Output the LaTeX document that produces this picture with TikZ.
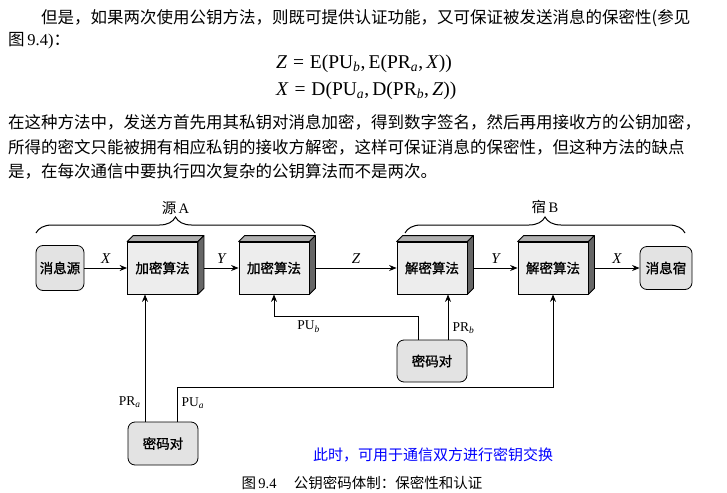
\documentclass[tikz,border=0pt]{standalone}
\usepackage{fontspec}
\setmainfont{Liberation Serif}
\newfontfamily\cjk{Noto Sans CJK SC}
\newfontfamily\cjkheavy{Noto Sans CJK SC}[FakeBold=1.2]
\usetikzlibrary{arrows.meta,decorations.pathreplacing}
\XeTeXlinebreaklocale "zh"
\XeTeXlinebreakskip=0pt plus 1fil
% key names with an italic subscript
\newcommand\keyname[2]{#1\textsubscript{\itshape #2}}
% top and right faces of a block drawn as a box
\newcommand\cubefaces[1]{%
  \filldraw[topface] (#1.north west) -- ([shift={(6,-6)}]#1.north west)
    -- ([shift={(6,-6)}]#1.north east) -- (#1.north east) -- cycle;
  \filldraw[sideface] (#1.north east) -- ([shift={(6,-6)}]#1.north east)
    -- ([shift={(6,-6)}]#1.south east) -- (#1.south east) -- cycle;}
\begin{document}
\begin{tikzpicture}[x=1pt,y=-1pt,
  bodytext/.style={anchor=west,inner sep=0pt,font=\cjk\fontsize{16.5}{18}\selectfont},
  eqtext/.style={anchor=west,inner sep=0pt,font=\fontsize{19.5}{21}\selectfont},
  cube/.style={draw,fill=gray!14,line width=0.8pt,minimum width=70pt,minimum height=52pt,
    inner sep=0pt,font=\cjkheavy\fontsize{13.5}{15}\selectfont},
  topface/.style={fill=gray!62,draw=black,line width=0.8pt,line join=round},
  sideface/.style={fill=gray!80!black,draw=black,line width=0.8pt,line join=round},
  term/.style={draw,fill=gray!22,line width=0.8pt,rounded corners=7pt,inner sep=0pt,
    font=\cjkheavy\fontsize{13.5}{15}\selectfont},
  arr/.style={-{Stealth[length=7.5pt,width=6pt]},line width=1pt},
  flow/.style={font=\itshape\fontsize{15}{16}\selectfont},
  keylab/.style={font=\fontsize{13.5}{15}\selectfont,inner sep=1pt},
  bracelab/.style={font=\fontsize{14.5}{16}\selectfont},
  brace/.style={decorate,decoration={brace,amplitude=16pt},line width=1pt}]
\useasboundingbox[fill=white] (0,0) rectangle (727,492);

% paragraph above the figure
\node[bodytext] (l1) at (41,18) {\hbox to 676pt{但是，如果两次使用公钥方法，则既可提供认证功能，又可保证被发送消息的保密性(参见}};
\node[bodytext] (l2) at (8,41) {图\,{\fontspec{Liberation Serif}9.4)}：};
\node[eqtext] (e1) at (276,64) {\textit{Z}\hspace{0.3em}=\hspace{0.3em}E(\keyname{PU}{b},\,E(\keyname{PR}{a},\,\textit{X}))};
\node[eqtext] (e2) at (276,91) {\textit{X}\hspace{0.3em}=\hspace{0.3em}D(\keyname{PU}{a},\,D(\keyname{PR}{b},\,\textit{Z}))};
\node[bodytext] (l3) at (8,122) {\hbox to 710pt{在这种方法中，发送方首先用其私钥对消息加密，得到数字签名，然后再用接收方的公钥加密，}};
\node[bodytext] (l4) at (8,147) {\hbox to 705pt{所得的密文只能被拥有相应私钥的接收方解密，这样可保证消息的保密性，但这种方法的缺点}};
\node[bodytext] (l5) at (8,171) {是，在每次通信中要执行四次复杂的公钥算法而不是两次。};

% braces over sender and receiver
\draw[brace] (36,233) -- node[bracelab,above=15pt] {{\cjk 源}\,A} (315,233);
\draw[brace] (405,233) -- node[bracelab,above=15pt] {{\cjk 宿}\,B} (685,233);

% main chain
\node[term,minimum width=48pt,minimum height=45pt] (src) at (60,268) {消息源};
\node[cube] (enc1) at (162.5,268) {加密算法};
\node[cube] (enc2) at (274,268) {加密算法};
\node[cube] (dec1) at (432,268) {解密算法};
\node[cube] (dec2) at (553,268) {解密算法};
\node[term,minimum width=52pt,minimum height=43pt] (dst) at (666,268) {消息宿};
\cubefaces{enc1}\cubefaces{enc2}\cubefaces{dec1}\cubefaces{dec2}

\draw[arr] (src.east) -- node[flow,above=1pt] {X} (enc1.west);
\draw[arr] ([xshift=6pt]enc1.east) -- node[flow,above=1pt] {Y} (enc2.west);
\draw[arr] ([xshift=6pt]enc2.east) -- node[flow,above=1pt] {Z} (dec1.west);
\draw[arr] ([xshift=6pt]dec1.east) -- node[flow,above=1pt] {Y} (dec2.west);
\draw[arr] ([xshift=6pt]dec2.east) -- node[flow,above=1pt] {X} (dst.west);

% key pairs
\node[term,minimum width=70pt,minimum height=42pt] (keyB) at (432,361) {密码对};
\node[term,minimum width=70pt,minimum height=43pt] (keyA) at (163,443.5) {密码对};

\coordinate (ka1) at ([xshift=-18pt]keyA.north);
\coordinate (ka2) at ([xshift=14pt]keyA.north);
\coordinate (kb1) at ([xshift=-14pt]keyB.north);
\coordinate (kb2) at ([xshift=16pt]keyB.north);

\draw[arr] (ka1) -- node[keylab,pos=0.15,left=3pt] {\keyname{PR}{a}} (ka1 |- enc1.south);
\draw[arr] (ka2) -- node[keylab,pos=0.55,right=3pt] {\keyname{PU}{a}} ++(0,-34) -| (dec2.south);
\draw[arr] (kb1) -- ++(0,-23) -| node[keylab,pos=0.38,below=3pt] {\keyname{PU}{b}} (enc2.south);
\draw[arr] (kb2) -- node[keylab,pos=0.26,right=3pt] {\keyname{PR}{b}} (kb2 |- dec1.south);

% note and caption
\node[font=\cjk\fontsize{15}{16}\selectfont,text=blue] (note) at (433,455) {此时，可用于通信双方进行密钥交换};
\node[font=\cjk\fontsize{14.5}{16}\selectfont] (cap) at (362,483) {图\,{\fontspec{Liberation Serif}9.4}\hspace{1.2em}公钥密码体制：保密性和认证};
\end{tikzpicture}
\end{document}
